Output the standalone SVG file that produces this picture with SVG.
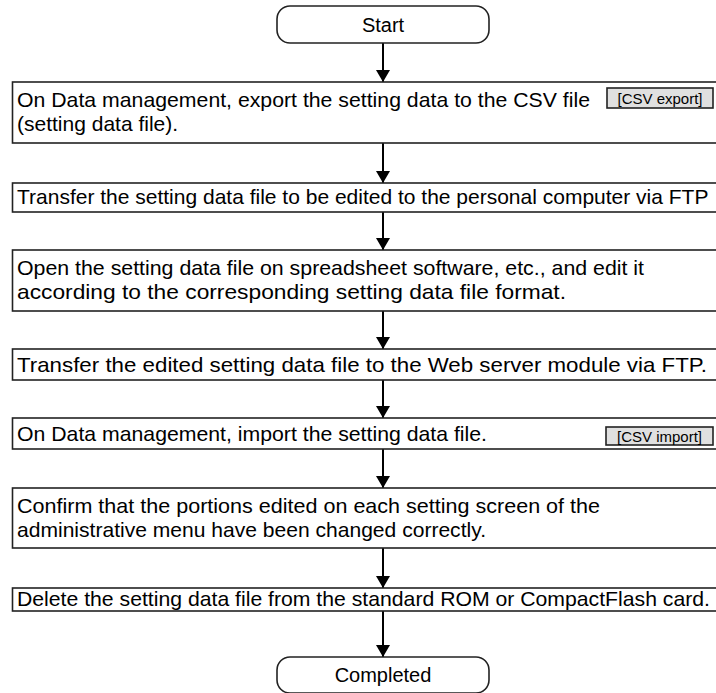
<svg xmlns="http://www.w3.org/2000/svg" width="716" height="693" viewBox="0 0 716 693">
<style>
.box{fill:#fff;stroke:#222;stroke-width:1.6}
.term{fill:#fff;stroke:#222;stroke-width:1.6}
.t{font-family:"Liberation Sans",Arial,sans-serif;font-size:21px;fill:#000}
.tc{font-family:"Liberation Sans",Arial,sans-serif;font-size:20px;fill:#000;text-anchor:middle}
.btn{fill:#e0e0e0;stroke:#222;stroke-width:1.6}
.bt{font-family:"Liberation Sans",Arial,sans-serif;font-size:15px;fill:#000;text-anchor:middle}
.conn{stroke:#000;stroke-width:2;fill:none;marker-end:url(#ah)}
</style>
<defs>
<marker id="ah" markerUnits="userSpaceOnUse" markerWidth="14" markerHeight="14" refX="12" refY="7" orient="auto">
<path d="M0,0 L12,7 L0,14 Z" fill="#000"/>
</marker>
</defs>
<rect width="716" height="693" fill="#fff"/>
<g id="connectors">
<line class="conn" x1="383" y1="43" x2="383" y2="82"/>
<line class="conn" x1="383" y1="143" x2="383" y2="183"/>
<line class="conn" x1="383" y1="212" x2="383" y2="250"/>
<line class="conn" x1="383" y1="311" x2="383" y2="349"/>
<line class="conn" x1="383" y1="380" x2="383" y2="418"/>
<line class="conn" x1="383" y1="449" x2="383" y2="488"/>
<line class="conn" x1="383" y1="548" x2="383" y2="588"/>
<line class="conn" x1="383" y1="611" x2="383" y2="657"/>
</g>
<g id="start">
<rect class="term" x="277" y="6" width="212" height="37" rx="13"/>
<text class="tc" x="383" y="32">Start</text>
</g>
<g id="step1">
<rect class="box" x="12.5" y="82" width="720" height="61"/>
<text class="t" x="17" y="107" textLength="573" lengthAdjust="spacingAndGlyphs">On Data management, export the setting data to the CSV file</text>
<text class="t" x="17" y="131">(setting data file).</text>
<rect class="btn" x="607" y="88" width="106" height="20"/>
<text class="bt" x="660" y="103.5">[CSV export]</text>
</g>
<g id="step2">
<rect class="box" x="12.5" y="183" width="720" height="29"/>
<text class="t" x="17" y="204">Transfer the setting data file to be edited to the personal computer via FTP</text>
</g>
<g id="step3">
<rect class="box" x="12.5" y="250" width="720" height="61"/>
<text class="t" x="17" y="275" textLength="627" lengthAdjust="spacingAndGlyphs">Open the setting data file on spreadsheet software, etc., and edit it</text>
<text class="t" x="17" y="299" textLength="549" lengthAdjust="spacingAndGlyphs">according to the corresponding setting data file format.</text>
</g>
<g id="step4">
<rect class="box" x="12.5" y="349" width="720" height="31"/>
<text class="t" x="17" y="372" textLength="690" lengthAdjust="spacingAndGlyphs">Transfer the edited setting data file to the Web server module via FTP.</text>
</g>
<g id="step5">
<rect class="box" x="12.5" y="418" width="720" height="31"/>
<text class="t" x="17" y="441" textLength="470" lengthAdjust="spacingAndGlyphs">On Data management, import the setting data file.</text>
<rect class="btn" x="606" y="427" width="107" height="18"/>
<text class="bt" x="659.5" y="441.5">[CSV import]</text>
</g>
<g id="step6">
<rect class="box" x="12.5" y="488" width="720" height="60"/>
<text class="t" x="17" y="513" textLength="583" lengthAdjust="spacingAndGlyphs">Confirm that the portions edited on each setting screen of the</text>
<text class="t" x="17" y="537" textLength="469" lengthAdjust="spacingAndGlyphs">administrative menu have been changed correctly.</text>
</g>
<g id="step7">
<rect class="box" x="12.5" y="588" width="720" height="23"/>
<text class="t" x="17" y="606" textLength="693" lengthAdjust="spacingAndGlyphs">Delete the setting data file from the standard ROM or CompactFlash card.</text>
</g>
<g id="completed">
<rect class="term" x="277" y="657" width="212" height="36" rx="13"/>
<text class="tc" x="383" y="682">Completed</text>
</g>
</svg>
